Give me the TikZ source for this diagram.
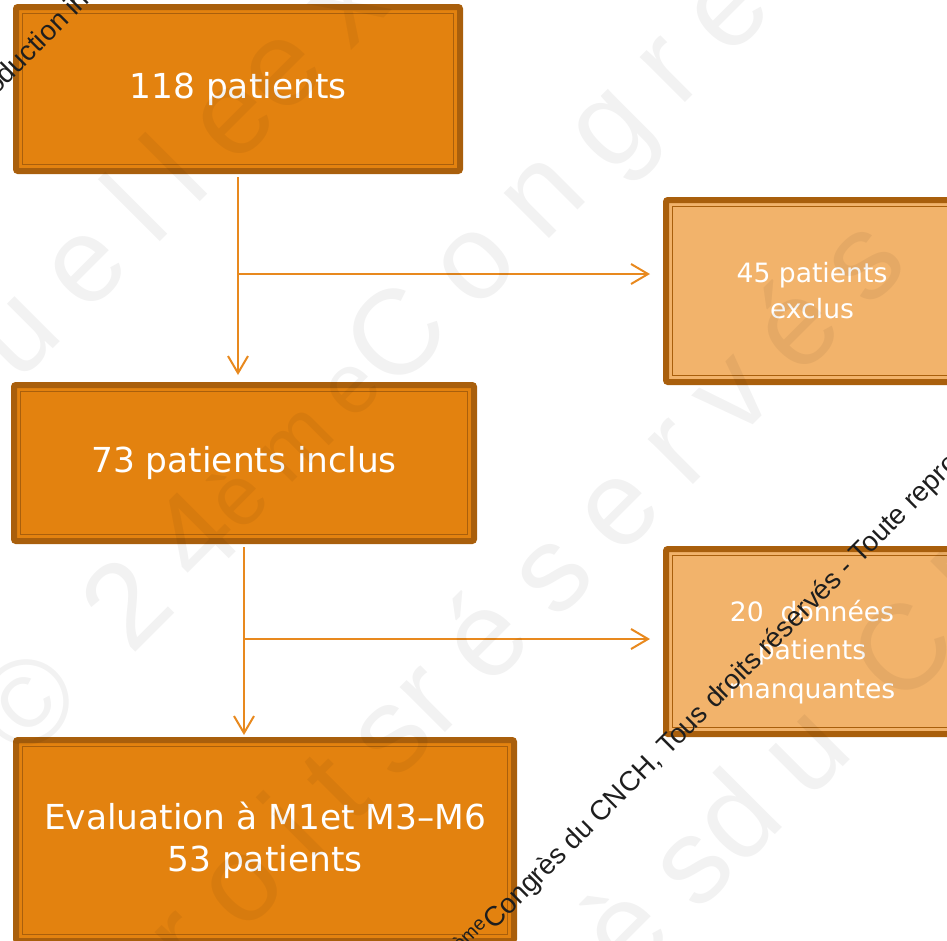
\documentclass[tikz,border=0pt]{standalone}
\usepackage{fontspec}
\setmainfont{DejaVu Sans}
\newfontfamily\wmfont{Liberation Sans}
\newfontfamily\wmbigfont[LetterSpace=24]{Liberation Sans}
\usetikzlibrary{arrows.meta,calc}
\definecolor{boxdark}{HTML}{A95F0C}
\definecolor{boxfill}{HTML}{E3820F}
\definecolor{boxlight}{HTML}{F2B36B}
\definecolor{arrowc}{HTML}{E8891E}
\definecolor{wmblack}{HTML}{1E1E1E}
\begin{document}
\begin{tikzpicture}[x=1pt,y=-1pt,
  boxbase/.style={draw=boxdark, line width=6pt, rounded corners=2pt, text=white, align=center, inner sep=0pt,
    path picture={\draw[boxdark, line width=1.5pt, sharp corners]
      ([shift={(6.5pt,6.5pt)}]path picture bounding box.south west) rectangle
      ([shift={(-6.5pt,-6.5pt)}]path picture bounding box.north east);}},
  bigbox/.style={boxbase, fill=boxfill, font=\fontsize{34.4}{42}\selectfont},
  smallbox/.style={boxbase, fill=boxlight, font=\fontsize{26.6}{36}\selectfont},
  boxtext/.style={text=white, align=center, inner sep=0pt, font=\fontsize{26.6}{38.5}\selectfont},
  arr/.style={draw=arrowc, line width=2pt, -{Straight Barb[length=17pt,width=20pt]}},
  wmsmall/.style={text=wmblack, font=\wmfont\fontsize{27.7}{30}\selectfont, rotate=45, inner sep=0pt},
  wmbig/.style={text=black, text opacity=0.05, font=\wmbigfont\fontsize{121}{125}\selectfont, rotate=45, inner sep=0pt}
]
\useasboundingbox (0,0) rectangle (947,940);
\clip (0,0) rectangle (947,940);

% boxes
\node[bigbox, minimum width=444pt, minimum height=164pt] (b1) at (238,89) {118 patients};
\node[bigbox, minimum width=460pt, minimum height=156pt] (b2) at (244,463) {73 patients inclus};
\node[bigbox, minimum width=498pt, minimum height=201pt] (b3) at (265,840.5) {Evaluation à M1et M3–M6\\53 patients};
\node[smallbox, minimum width=292pt, minimum height=182pt] (b4) at (812,291) {45 patients\\exclus};
\node[smallbox, minimum width=292pt, minimum height=185pt] (b5) at (812,641.5) {};
\node[boxtext] (t5) at (812,652) {20\ \ données\\patients\\manquantes};

% connectors
\coordinate (j1) at (b1.south |- 0,274);
\coordinate (j2) at (b2.south |- 0,639);
\draw[arr, shorten <=3pt, shorten >=7pt] (b1.south) -- (b1.south |- b2.north);
\draw[arr, shorten >=13pt] (j1) -- (j1 -| b4.west);
\draw[arr, shorten <=3pt, shorten >=2pt] (b2.south) -- (b2.south |- b3.north);
\draw[arr, shorten >=13pt] (j2) -- (j2 -| b5.west);

% faint watermark
\node[wmbig, anchor=base west] (w1a) at (282,120) {exclusive};
\node[wmbig, anchor=base east] (w1b) at (282,120) {Propriété intellectuelle };
\node[wmbig, anchor=base west] (w2a) at (393,395) {Congrès du CNCH};
\node[wmbig, anchor=base east] (w2b) at (393,395) {© 24\textsuperscript{ème} };
\node[wmbig, anchor=base west] (w3a) at (439,739) {réservés};
\node[wmbig, anchor=base east] (w3b) at (439,739) {Tous droits };
\node[wmbig, anchor=base west] (w4a) at (740,870) {du CNCH};
\node[wmbig, anchor=base east] (w4b) at (740,870) {© 24\textsuperscript{ème} Congrès };

% small black watermark
\node[wmsmall, anchor=base west] (wm1) at (494,931) {Congrès du CNCH, Tous droits réservés - Toute reproduction interdite};
\node[wmsmall, anchor=base east] (wm2) at (494,931) {© 24\textsuperscript{ème} };
\node[wmsmall, anchor=base west] (wm3) at (-459,551) {Congrès du CNCH, Tous droits réservés - Toute reproduction interdite};
\end{tikzpicture}
\end{document}
